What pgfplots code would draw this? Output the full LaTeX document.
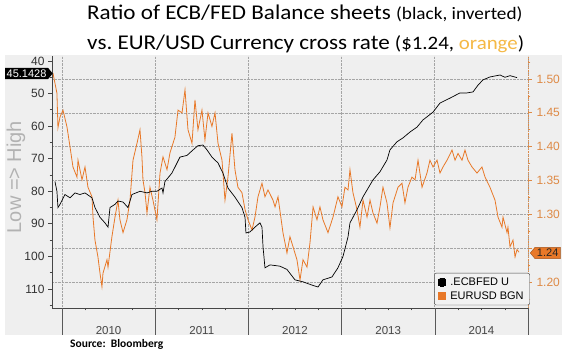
\documentclass[border=0pt]{standalone}
\usepackage{pgfplots}
\pgfplotsset{compat=1.18}
\usepackage{fontspec}
\setmainfont{Carlito}
\newfontfamily\titlefont[FakeStretch=1.1]{Carlito}
\newfontfamily\bbg{Liberation Sans}
\usetikzlibrary{shapes.symbols}
\definecolor{bggray}{RGB}{239,239,239}
\definecolor{eurorange}{RGB}{232,120,40}
\definecolor{tickorange}{RGB}{222,138,70}
\definecolor{titleorange}{RGB}{245,185,70}
\definecolor{gridgray}{RGB}{165,165,165}
\definecolor{axisgray}{RGB}{70,70,70}
\begin{document}
\begin{tikzpicture}
\path[use as bounding box] (0pt,0pt) rectangle (568pt,353pt);
\fill[white] (0pt,0pt) rectangle (568pt,353pt);
\fill[bggray] (5pt,18pt) rectangle (562pt,298pt);

% ---------- EUR/USD (right axis, grids, x axis) ----------
\begin{axis}[
  at={(52pt,45pt)}, anchor=south west,
  width=476pt, height=252pt, scale only axis,
  xmin=2009.893, xmax=2015.0,
  ymin=1.1616, ymax=1.534,
  axis x line*=bottom, axis y line*=right,
  xtick={2010,2011,2012,2013,2014,2015}, xticklabels={},
  minor x tick num=3,
  ytick={1.20,1.25,1.30,1.35,1.40,1.45,1.50},
  yticklabels={1.20,,1.30,1.35,1.40,1.45,1.50},
  minor ytick={1.175,1.225,1.275,1.325,1.375,1.425,1.475,1.525},
  xmajorgrids, ymajorgrids,
  major grid style={densely dotted, gridgray, line width=0.6pt},
  tick align=outside, major tick length=4pt, minor tick length=2.5pt,
  x axis line style={axisgray, line width=0.8pt},
  y axis line style={densely dotted, tickorange, line width=0.8pt},
  xtick style={axisgray},
  ytick style={tickorange, line width=0.8pt},
  yticklabel style={text=tickorange, font=\bbg\fontsize{12}{12}\selectfont, xshift=1pt},
  legend style={at={(1.004,0.011)}, anchor=south east, draw=axisgray, fill=bggray!80!white,
    rounded corners=2pt, font=\bbg\fontsize{11}{12.5}\selectfont, inner xsep=4pt, inner ysep=2.5pt,
    row sep=0.5pt, cells={anchor=west},
    /tikz/every odd column/.append style={column sep=2.5pt}},
  legend image code/.code={\draw[line width=0pt, fill] (0pt,-3.8pt) rectangle (7.5pt,3.8pt);},
]
\addlegendimage{black, fill=black}
\addlegendentry{.ECBFED U}
\addplot[color=eurorange, line width=0.8pt] coordinates {
(2009.903,1.509) (2009.946,1.479) (2009.957,1.428) (2009.979,1.444) (2010.011,1.454)
(2010.054,1.429) (2010.086,1.400) (2010.118,1.370) (2010.161,1.355) (2010.172,1.380)
(2010.215,1.351) (2010.247,1.370) (2010.279,1.340) (2010.322,1.326) (2010.333,1.296)
(2010.354,1.262) (2010.386,1.237) (2010.408,1.213) (2010.429,1.193) (2010.440,1.213)
(2010.483,1.233) (2010.494,1.222) (2010.536,1.267) (2010.569,1.296) (2010.601,1.321)
(2010.622,1.292) (2010.655,1.273) (2010.697,1.292) (2010.730,1.321) (2010.762,1.380)
(2010.805,1.405) (2010.837,1.425) (2010.858,1.385) (2010.869,1.351) (2010.891,1.332)
(2010.912,1.302) (2010.944,1.340) (2010.976,1.321) (2011.019,1.292) (2011.052,1.361)
(2011.084,1.385) (2011.127,1.366) (2011.159,1.391) (2011.212,1.414) (2011.245,1.454)
(2011.288,1.450) (2011.320,1.484) (2011.352,1.425) (2011.395,1.405) (2011.427,1.469)
(2011.459,1.425) (2011.502,1.454) (2011.534,1.410) (2011.567,1.450) (2011.609,1.430)
(2011.642,1.450) (2011.674,1.405) (2011.717,1.380) (2011.749,1.321) (2011.781,1.355)
(2011.824,1.420) (2011.856,1.366) (2011.888,1.340) (2011.931,1.332) (2011.964,1.307)
(2011.996,1.292) (2012.039,1.277) (2012.071,1.296) (2012.103,1.326) (2012.146,1.346)
(2012.178,1.326) (2012.210,1.336) (2012.264,1.321) (2012.286,1.311) (2012.318,1.326)
(2012.371,1.273) (2012.414,1.243) (2012.446,1.267) (2012.479,1.252) (2012.521,1.233)
(2012.554,1.203) (2012.586,1.233) (2012.629,1.222) (2012.661,1.258) (2012.694,1.311)
(2012.736,1.292) (2012.768,1.311) (2012.800,1.292) (2012.854,1.273) (2012.908,1.296)
(2012.961,1.326) (2013.004,1.311) (2013.036,1.340) (2013.069,1.336) (2013.090,1.366)
(2013.122,1.332) (2013.165,1.307) (2013.197,1.281) (2013.230,1.321) (2013.273,1.296)
(2013.305,1.321) (2013.337,1.302) (2013.380,1.287) (2013.412,1.311) (2013.444,1.340)
(2013.487,1.317) (2013.519,1.280) (2013.552,1.317) (2013.605,1.340) (2013.648,1.346)
(2013.680,1.317) (2013.712,1.340) (2013.755,1.355) (2013.788,1.351) (2013.820,1.380)
(2013.863,1.340) (2013.916,1.361) (2013.948,1.380) (2013.981,1.370) (2014.024,1.380)
(2014.056,1.361) (2014.088,1.370) (2014.131,1.380) (2014.185,1.395) (2014.217,1.380)
(2014.249,1.390) (2014.292,1.380) (2014.324,1.395) (2014.356,1.380) (2014.399,1.370)
(2014.453,1.361) (2014.506,1.370) (2014.539,1.355) (2014.592,1.340) (2014.646,1.321)
(2014.678,1.296) (2014.721,1.281) (2014.732,1.296) (2014.775,1.273) (2014.785,1.281)
(2014.807,1.252) (2014.839,1.262) (2014.861,1.237) (2014.882,1.248) (2014.903,1.244)
};
\addlegendentry{EURUSD BGN}
\end{axis}

% ---------- ECB/FED ratio (left axis, inverted) ----------
\begin{axis}[
  at={(52pt,45pt)}, anchor=south west,
  width=476pt, height=252pt, scale only axis,
  xmin=2009.893, xmax=2015.0,
  ymin=38.465, ymax=115.84, y dir=reverse,
  axis x line=none, axis y line*=left,
  ytick={40,50,60,70,80,90,100,110},
  minor ytick={45,55,65,75,85,95,105,115},
  tick align=outside, major tick length=4pt, minor tick length=2.5pt,
  y axis line style={axisgray, line width=0.8pt},
  ytick style={axisgray, line width=0.9pt},
  yticklabel style={text=black!80, font=\bbg\fontsize{12}{12}\selectfont, /pgf/number format/assume math mode=true},
]
\addplot[black, line width=0.7pt] coordinates {
(2009.925,77) (2009.946,80) (2009.957,85) (2009.979,84) (2010.032,81) (2010.086,82)
(2010.139,80.5) (2010.193,81) (2010.247,80.5) (2010.322,82) (2010.354,85) (2010.408,88)
(2010.461,89.7) (2010.494,91) (2010.515,85) (2010.569,84) (2010.601,83) (2010.655,83.3)
(2010.708,85) (2010.751,81) (2010.837,80) (2010.912,80.5) (2010.966,80) (2011.019,80)
(2011.073,79) (2011.084,80.5) (2011.105,77) (2011.180,74.4) (2011.266,69.5) (2011.341,69)
(2011.406,67.3) (2011.459,66) (2011.513,65.8) (2011.556,67.3) (2011.609,69.5) (2011.674,71.3)
(2011.727,74.4) (2011.781,79) (2011.856,81.8) (2011.931,85) (2011.964,88) (2011.974,92.8)
(2012.017,92.5) (2012.071,91) (2012.124,89.7) (2012.146,91) (2012.157,97) (2012.178,103.5)
(2012.232,102.6) (2012.339,103) (2012.414,104) (2012.500,107.2) (2012.586,107.8) (2012.682,108.8)
(2012.747,109.4) (2012.800,107.2) (2012.897,106.3) (2012.961,103.5) (2013.015,100) (2013.069,94)
(2013.090,89.7) (2013.165,85.7) (2013.230,81.7) (2013.337,76.5) (2013.412,74) (2013.487,70.4)
(2013.519,67.3) (2013.594,64.8) (2013.659,63.6) (2013.734,61.8) (2013.809,60.3) (2013.873,58.1)
(2013.981,55.7) (2014.056,52.9) (2014.163,51.4) (2014.270,49.8) (2014.345,49.8) (2014.410,49.5)
(2014.464,47.4) (2014.517,45.8) (2014.592,44.9) (2014.700,44.3) (2014.753,45.0) (2014.807,44.5)
(2014.882,45.1)
};
\end{axis}

% year separators and labels (year boundaries at 62, 155.2, 248.4, 341.6, 434.8, 528 pt)
\foreach \xx in {62,155.2,248.4,341.6,434.8,528}{
  \draw[gray!70!black, line width=0.5pt] (\xx pt,45pt) -- (\xx pt,18pt);
}
\foreach \xx/\yr in {108.6/2010,201.8/2011,295/2012,388.2/2013,481.4/2014}{
  \node[font=\bbg\fontsize{11.5}{11.5}\selectfont, text=axisgray] at (\xx pt,22.5pt) {\yr};
}

% value tags
\node[signal, signal to=east, signal pointer angle=100, fill=black, text=white,
  font=\bbg\fontsize{11}{11}\selectfont, inner xsep=1.5pt, inner ysep=1.8pt, anchor=east]
  at (53pt,279.5pt) {45.1428};
\node[signal, signal to=west, signal pointer angle=100, fill=eurorange, draw=eurorange!70!black,
  text=black!85, font=\bbg\fontsize{11}{11}\selectfont, inner xsep=2pt, inner ysep=1.8pt, anchor=west]
  at (530pt,100pt) {1.24};

% axis side label
\node[rotate=90, text=black!30, font=\bbg\fontsize{20}{20}\selectfont] at (16pt,176pt) {Low => High};

% title
\node[anchor=base west, inner sep=0pt, font=\titlefont\fontsize{21}{23}\selectfont] at (87pt,333pt)
  {Ratio of ECB/FED Balance sheets {\fontsize{17.5}{20}\selectfont (black, inverted)}};
\node[anchor=base west, inner sep=0pt, font=\titlefont\fontsize{21}{23}\selectfont] at (87pt,303pt)
  {vs.\ EUR/USD Currency cross rate {\fontsize{19}{20}\selectfont (\$1.24, \textcolor{titleorange}{orange})}};

% source
\node[anchor=base west, inner sep=0pt, font=\bfseries\fontsize{11.5}{12}\selectfont] at (70pt,5pt) {Source:\ \ Bloomberg};
\end{tikzpicture}
\end{document}
